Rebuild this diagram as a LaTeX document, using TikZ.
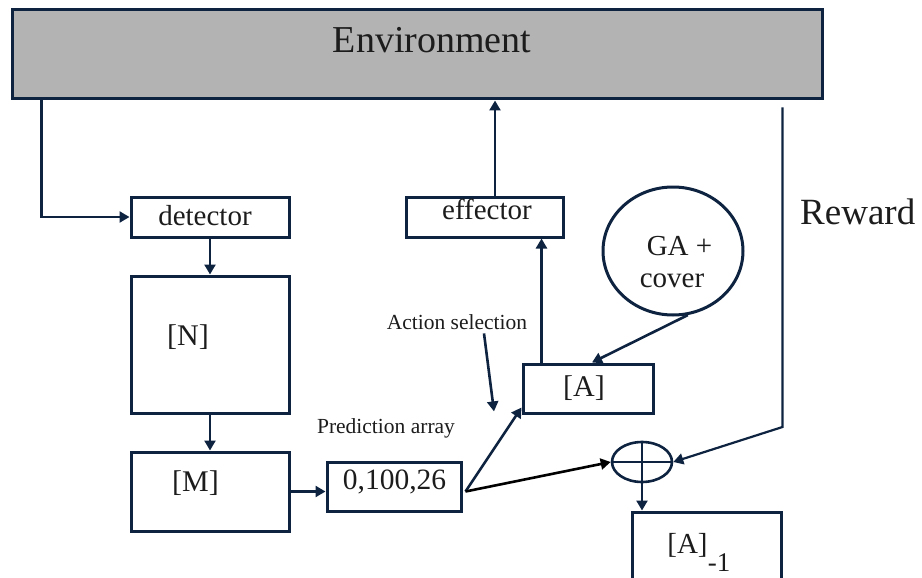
\documentclass[tikz,border=0pt]{standalone}
\usepackage{fontspec}
\setmainfont{Liberation Serif}
\usepackage{xcolor}
\usetikzlibrary{arrows.meta,positioning,calc,shapes.geometric}
\definecolor{navy}{RGB}{14,35,64}
\definecolor{envgray}{RGB}{179,179,179}
\definecolor{ink}{RGB}{28,28,28}
\newcommand{\fsz}[1]{\fontsize{#1}{#1}\selectfont}

\begin{document}
\begin{tikzpicture}[x=1pt, y=-1pt, >={Triangle[length=10pt,width=11pt]},
  box/.style={draw=navy, line width=3pt, inner sep=0pt},
  lbl/.style={text=ink, anchor=base, inner sep=0pt},
  arr/.style={->, draw=navy, line width=2.6pt}]
  \useasboundingbox (0,0) rectangle (922,578);
  \clip (0,0) rectangle (922,578);
  % boxes
  \node[box, fill=envgray, minimum width=810pt, minimum height=89pt] (env) at (417,54.5) {};
  \node[box, minimum width=158pt, minimum height=40pt] (det) at (210,217) {};
  \node[box, minimum width=157pt, minimum height=40pt] (eff) at (484.5,217) {};
  \node[box, minimum width=158pt, minimum height=137pt] (N) at (210,344.5) {};
  \node[box, minimum width=158pt, minimum height=79pt] (M) at (210,491.5) {};
  \node[box, minimum width=134pt, minimum height=49pt] (pred) at (394,486.5) {};
  \node[box, minimum width=130pt, minimum height=49pt] (A) at (588,388.5) {};
  \node[box, minimum width=149pt, minimum height=110pt] (A1) at (706.5,567) {};
  \node[ellipse, draw=navy, line width=3pt, minimum width=140pt, minimum height=128pt] (GA) at (673,251) {};
  \node[ellipse, draw=navy, line width=2.6pt, minimum width=60pt, minimum height=40pt, inner sep=0pt] (sum) at (642,462) {};
  \draw[navy, line width=2.6pt] (sum.north) -- (sum.south) (sum.west) -- (sum.east);
  % texts
  \node[lbl] (envtxt) at (432,53) {\fsz{38}Environment};
  \node[lbl] (dettxt) at (205,225) {\fsz{29}detector};
  \node[lbl] (efftxt) at (487,219) {\fsz{29}effector};
  \node[lbl] (Ntxt) at (188,345.5) {\fsz{30}[N]};
  \node[lbl] (Mtxt) at (195.5,491.5) {\fsz{30}[M]};
  \node[lbl] (predtxt) at (394.5,489) {\fsz{29.5}0,100,26};
  \node[lbl] (Atxt) at (584,396.5) {\fsz{30}[A]};
  \node[lbl] (gatxt) at (679.5,255) {\fsz{29}GA +};
  \node[lbl] (covtxt) at (672,287) {\fsz{29}cover};
  \node[lbl, anchor=base west] (rew) at (800,224) {\fsz{37}Reward};
  \node[lbl] (parr) at (386,433) {\fsz{21.5}Prediction array};
  \node[lbl] (act) at (457,329) {\fsz{21.5}Action selection};
  \node[lbl] (A1txt) at (687.5,553) {\fsz{29}[A]};
  \node[lbl] (A1sub) at (719,571) {\fsz{27}-1};
  % connectors
  \coordinate (envout) at ($(env.south west)+(31,0)$);
  \draw[arr] (envout) |- (det.west);
  \draw[arr] (det.south) -- (N.north);
  \draw[arr] (N.south) -- (M.north);
  \draw[arr] (M.east) -- (M.east -| pred.west);
  \coordinate (fork) at ($(pred.east)+(3,5)$);
  \draw[arr] (fork) -- ($(A.south west)+(0,-7)$);
  \draw[->, black, line width=2.6pt] (fork) -- (sum.west);
  \draw[arr] (GA.-77) -- ($(A.north)+(4,0)$);
  \coordinate (Aup) at ($(A.north west)+(20,0)$);
  \draw[arr] (Aup) -- (Aup |- eff.south);
  \coordinate (effup) at ($(eff.north)+(10.5,0)$);
  \draw[arr] (effup) -- (effup |- env.south);
  \draw[arr] ($(act.south)+(27,4)$) -- ++(10,78);
  \coordinate (rwtop) at ($(env.south east)+(-41,7)$);
  \coordinate (rwbend) at (rwtop |- 0,427);
  \draw[arr, line width=2.2pt] (rwtop) -- (rwbend) -- (sum.east);
  \draw[arr] (sum.south) -- (sum.south |- A1.north);
\end{tikzpicture}
\end{document}
